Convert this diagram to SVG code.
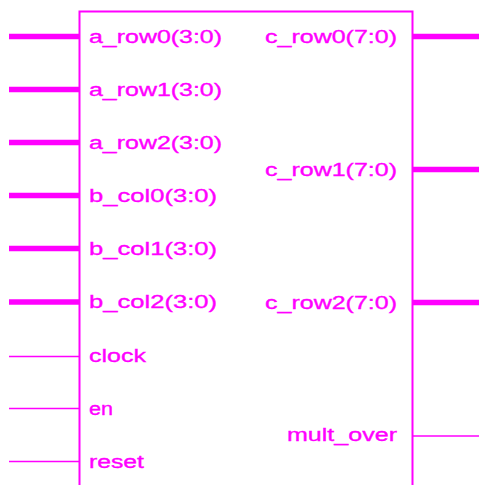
<svg xmlns="http://www.w3.org/2000/svg" width="479" height="485" viewBox="0 0 479 485">
<style>
.box{fill:none;stroke:#ff00ff;stroke-width:2}
.bus{stroke:#ff00ff;stroke-width:5.5;fill:none}
.wire{stroke:#ff00ff;stroke-width:1.5;fill:none}
text{font-family:"Liberation Sans",Arial,sans-serif;font-size:18px;fill:#ff00ff;stroke:#ff00ff;stroke-width:0.35}
</style>
<rect width="479" height="485" fill="#fff"/>
<g id="block">
<path class="box" d="M79.5 490 V11.5 H412.5 V490"/>
<text x="89" y="43" textLength="133" lengthAdjust="spacingAndGlyphs">a_row0(3:0)</text>
<text x="89" y="96" textLength="133" lengthAdjust="spacingAndGlyphs">a_row1(3:0)</text>
<text x="89" y="149" textLength="133" lengthAdjust="spacingAndGlyphs">a_row2(3:0)</text>
<text x="89" y="202" textLength="128" lengthAdjust="spacingAndGlyphs">b_col0(3:0)</text>
<text x="89" y="255" textLength="128" lengthAdjust="spacingAndGlyphs">b_col1(3:0)</text>
<text x="89" y="308" textLength="128" lengthAdjust="spacingAndGlyphs">b_col2(3:0)</text>
<text x="89" y="362" textLength="57" lengthAdjust="spacingAndGlyphs">clock</text>
<text x="89" y="415" textLength="24" lengthAdjust="spacingAndGlyphs">en</text>
<text x="89" y="468" textLength="55" lengthAdjust="spacingAndGlyphs">reset</text>
<text x="265" y="43" textLength="132" lengthAdjust="spacingAndGlyphs">c_row0(7:0)</text>
<text x="265" y="176" textLength="132" lengthAdjust="spacingAndGlyphs">c_row1(7:0)</text>
<text x="265" y="309" textLength="132" lengthAdjust="spacingAndGlyphs">c_row2(7:0)</text>
<text x="287" y="441" textLength="110" lengthAdjust="spacingAndGlyphs">mult_over</text>
</g>
<g id="connectors">
<line class="bus" x1="9" y1="36.5" x2="79" y2="36.5"/>
<line class="bus" x1="9" y1="89.5" x2="79" y2="89.5"/>
<line class="bus" x1="9" y1="142.5" x2="79" y2="142.5"/>
<line class="bus" x1="9" y1="195.5" x2="79" y2="195.5"/>
<line class="bus" x1="9" y1="248.5" x2="79" y2="248.5"/>
<line class="bus" x1="9" y1="302" x2="79" y2="302"/>
<line class="wire" x1="9" y1="356.5" x2="79" y2="356.5"/>
<line class="wire" x1="9" y1="408.5" x2="79" y2="408.5"/>
<line class="wire" x1="9" y1="461.5" x2="79" y2="461.5"/>
<line class="bus" x1="413" y1="36.5" x2="479" y2="36.5"/>
<line class="bus" x1="413" y1="169.5" x2="479" y2="169.5"/>
<line class="bus" x1="413" y1="302.5" x2="479" y2="302.5"/>
<line class="wire" x1="413" y1="436" x2="479" y2="436"/>
</g>
</svg>
